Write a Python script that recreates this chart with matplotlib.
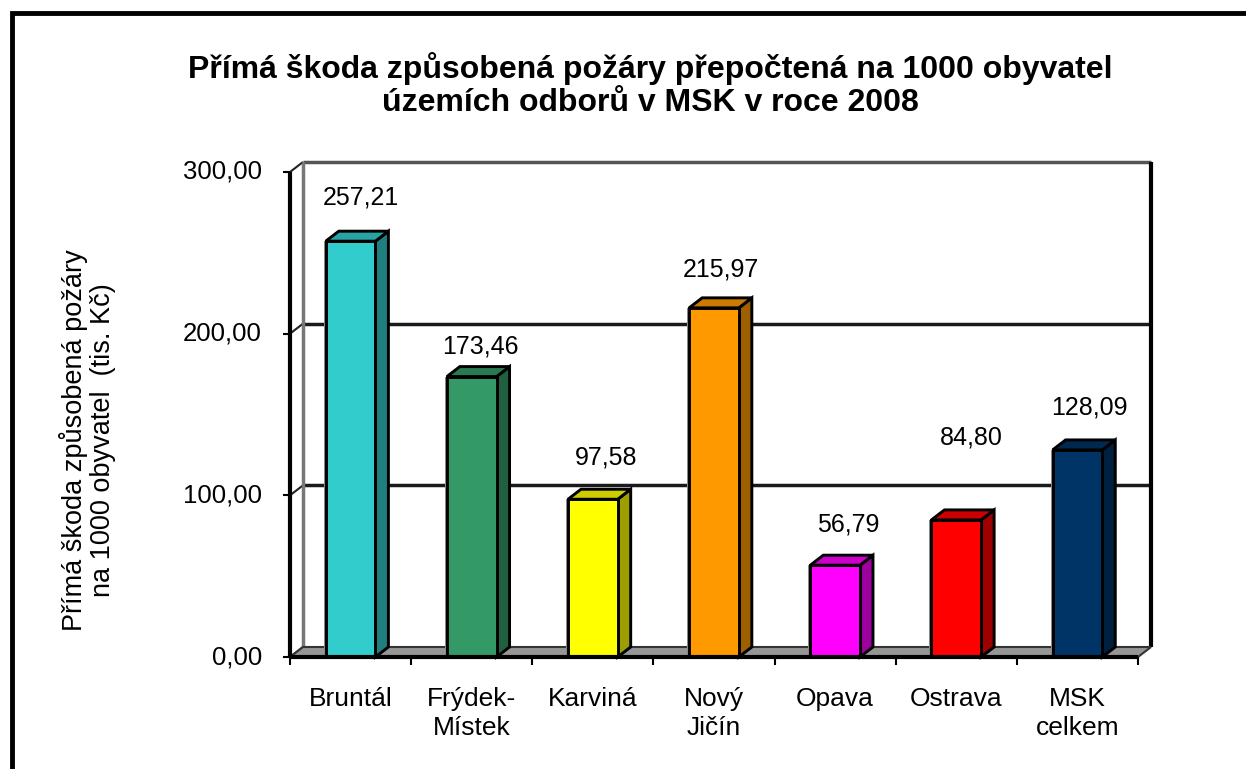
import matplotlib
matplotlib.use("Agg")
import matplotlib.pyplot as plt
from matplotlib.patches import Polygon, Rectangle
import matplotlib.colors as mcolors

# ---------------- data ----------------
categories = ["Bruntál", "Frýdek-\nMístek", "Karviná", "Nový\nJičín", "Opava", "Ostrava", "MSK\ncelkem"]
values = [257.21, 173.46, 97.58, 215.97, 56.79, 84.80, 128.09]
value_labels = ["257,21", "173,46", "97,58", "215,97", "56,79", "84,80", "128,09"]
y_ticks = [0, 100, 200, 300]
y_tick_labels = ["0,00", "100,00", "200,00", "300,00"]
title = "Přímá škoda způsobená požáry přepočtená na 1000 obyvatel\núzemích odborů v MSK v roce 2008"
ylabel = "Přímá škoda způsobená požáry\nna 1000 obyvatel  (tis. Kč)"

# ---------------- style ----------------
bar_colors = ["#33CCCC", "#339966", "#FFFF00", "#FF9900", "#FF00FF", "#FF0000", "#003366"]
# label offsets (pixels): dx from bar centre, dy above bar top
label_off = [(10, 44), (9, 30), (13, 42), (7, 38), (13, 41), (15, 82), (12, 42)]

plt.rcParams['font.family'] = ['Liberation Sans', 'DejaVu Sans']
W, H, DPI = 1246, 769, 100
fig = plt.figure(figsize=(W / DPI, H / DPI), dpi=DPI)
fig.patch.set_facecolor("white")

# outer frame
fig.patches.append(Rectangle((12 / W, -0.05), 1.2, (769 - 13) / H + 0.05, transform=fig.transFigure,
                             fill=False, edgecolor="black", linewidth=3.5))

ax_l, ax_r, ax_b, ax_t = 290, 1138, 657, 172
ax = fig.add_axes([ax_l / W, (H - ax_b) / H, (ax_r - ax_l) / W, (ax_b - ax_t) / H])
n = len(categories)
ymax = 300
ax.set_xlim(0, n)
ax.set_ylim(0, ymax)
ax.axis("off")

px_x = n / (ax_r - ax_l)          # data units per pixel (x)
px_y = ymax / (ax_b - ax_t)       # data units per pixel (y)
DX, DY = 13 * px_x, 10 * px_y     # 3D depth

def poly(pts, **kw):
    p = Polygon(pts, closed=True, clip_on=False, **kw)
    ax.add_patch(p)
    return p

def line(xs, ys, **kw):
    ax.plot(xs, ys, clip_on=False, solid_capstyle="butt", **kw)

# back wall
poly([(DX, DY), (n + DX, DY), (n + DX, ymax + DY), (DX, ymax + DY)], facecolor="white", edgecolor="none", zorder=1)
# gridlines on back wall and side wall diagonals
for t in y_ticks[1:-1]:
    line([DX, n + DX], [t + DY, t + DY], color="#1a1a1a", lw=2.5, zorder=2)
for t in y_ticks:
    line([0, DX], [t, t + DY], color="#222222", lw=1.5, zorder=2)
# back wall borders
line([DX, n + DX], [ymax + DY, ymax + DY], color="#555555", lw=2.5, zorder=2)
line([DX, DX], [DY, ymax + DY], color="#777777", lw=2.5, zorder=2)
line([n + DX, n + DX], [DY, ymax + DY], color="black", lw=3, zorder=2)

# floor
poly([(0, 0), (n, 0), (n + DX, DY), (DX, DY)], facecolor="#969696", edgecolor="#333333", lw=1.5, zorder=3)

# bars
bw = 0.41
for i, (v, c) in enumerate(zip(values, bar_colors)):
    xc = i + 0.5
    x0, x1 = xc - bw / 2, xc + bw / 2
    rgb = mcolors.to_rgb(c)
    side = tuple(ch * 0.62 for ch in rgb)
    top = tuple(ch * 0.8 for ch in rgb)
    # shadow
    poly([(x0 - 2 * px_x, 0), (x0, 0), (x0, v), (x0 - 2 * px_x, v)], facecolor="#888888", edgecolor="none", zorder=4)
    poly([(x1, 0), (x1 + DX, DY), (x1 + DX, v + DY), (x1, v)], facecolor=side, edgecolor="black", lw=2.1, zorder=5)
    poly([(x0, v), (x1, v), (x1 + DX, v + DY), (x0 + DX, v + DY)], facecolor=top, edgecolor="black", lw=2.1, zorder=5)
    ax.add_patch(Rectangle((x0, 0), bw, v, facecolor=c, edgecolor="black", lw=2.1, zorder=6, clip_on=False))
    dxp, dyp = label_off[i]
    ax.annotate(value_labels[i], (xc, v), xytext=(dxp * 0.72, dyp * 0.72), textcoords="offset points",
                ha="center", va="center", fontsize=18, color="black", annotation_clip=False)

# front axes lines
line([0, 0], [0, ymax], color="black", lw=3, zorder=7)
line([0, n], [0, 0], color="black", lw=3, zorder=7)
for t, lab in zip(y_ticks, y_tick_labels):
    line([-7 * px_x, 0], [t, t], color="black", lw=1.5, zorder=7)
    ax.text(-28 * px_x, t, lab, ha="right", va="center", fontsize=18.5)
for k in range(n + 1):
    line([k, k], [0, -8 * px_y], color="black", lw=1.5, zorder=7)
for i, cat in enumerate(categories):
    ax.text(i + 0.5, -30 * px_y, cat, ha="center", va="top", fontsize=19, linespacing=1.25)

# y label
fig.text(88 / W, 1 - 440 / H, ylabel, rotation=90, ha="center", va="center", fontsize=19.5,
         multialignment="center", linespacing=1.1)
# title
fig.text(650 / W, 1 - 85 / H, title, ha="center", va="center", fontsize=23, fontweight="bold",
         linespacing=1.15)

fig.savefig("out.png", dpi=DPI)
